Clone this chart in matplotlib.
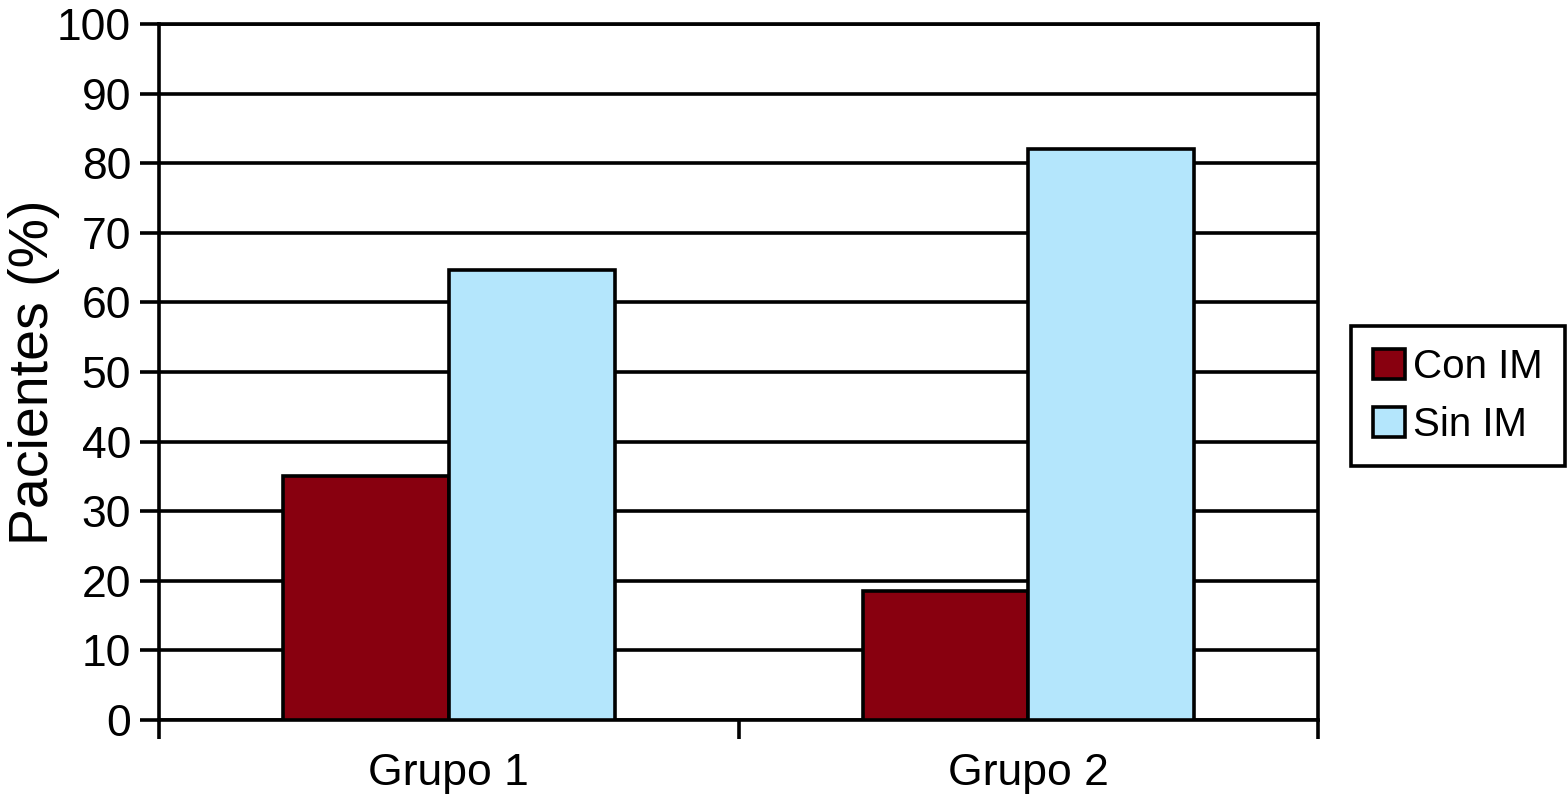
import numpy as np
import matplotlib
matplotlib.use("Agg")
import matplotlib.pyplot as plt

# Values.
groups = ["Grupo 1", "Grupo 2"]
conIM = [35.1, 18.6]
sinIM = [64.6, 82.0]
seriesNames = ["Con IM", "Sin IM"]
colors = ["#88000F", "#B4E6FC"]
yTicks = [0, 10, 20, 30, 40, 50, 60, 70, 80, 90, 100]

plt.rcParams["font.family"] = ["Liberation Sans", "DejaVu Sans"]
lw = 2.6

fig = plt.figure(figsize=(15.68, 7.97), dpi=100)
ax = fig.add_axes([0.1014, 0.0966, 0.7392, 0.8733])

x = np.arange(len(groups))
barWidth = 0.286
ax.bar(x - barWidth / 2, conIM, barWidth, color=colors[0], edgecolor="black",
       linewidth=lw, label=seriesNames[0], zorder=3)
ax.bar(x + barWidth / 2, sinIM, barWidth, color=colors[1], edgecolor="black",
       linewidth=lw, label=seriesNames[1], zorder=3)

# Axes and grid
ax.set_xlim(-0.5, len(groups) - 0.5)
ax.set_ylim(0, 100)
ax.set_yticks(yTicks)
ax.yaxis.grid(True, color="black", linewidth=lw, zorder=0)
ax.set_axisbelow(True)
for s in ax.spines.values():
    s.set_linewidth(lw)

ax.set_xticks(x)
ax.set_xticklabels(groups)
ax.set_xticks(np.arange(-0.5, len(groups), 1.0), minor=True)
ax.tick_params(axis="x", which="major", length=0, pad=24, labelsize=32)
ax.tick_params(axis="x", which="minor", length=14, width=lw, direction="out")
ax.tick_params(axis="y", length=14, width=lw, direction="out", pad=6, labelsize=32)

ax.set_ylabel("Pacientes (%)", fontsize=40, labelpad=-2)

leg = ax.legend(loc="center left", bbox_to_anchor=(1351 / 1568, 1 - 396 / 797),
                bbox_transform=fig.transFigure, fontsize=29, frameon=True,
                framealpha=1, fancybox=False, shadow=False, edgecolor="black",
                handlelength=0.8, handleheight=0.8, handletextpad=0.2,
                labelspacing=0.5, borderpad=0.55, borderaxespad=0)
leg.get_frame().set_linewidth(lw)
for h in leg.legend_handles:
    h.set_linewidth(lw)

fig.savefig("out.png", dpi=100)
